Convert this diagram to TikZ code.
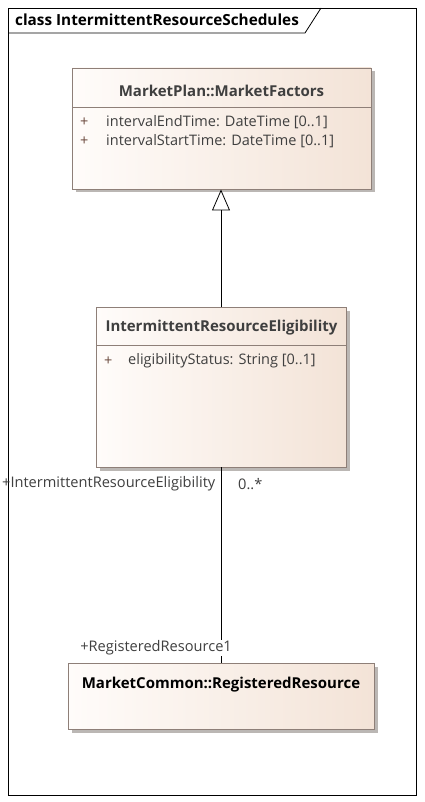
\documentclass[tikz,border=0pt]{standalone}
\usepackage{fontspec}
\setmainfont{Open Sans}
\usetikzlibrary{arrows.meta,shadows}
\definecolor{boxedge}{HTML}{8E7F78}
\definecolor{boxlight}{HTML}{FFFCFA}
\definecolor{boxwarm}{HTML}{F3E3D7}
\definecolor{txtdark}{HTML}{3F3F3F}
\definecolor{plus}{HTML}{6B4A3E}
\definecolor{shade}{HTML}{B0ABA8}
\tikzset{
  classbox/.style={draw=boxedge, line width=0.8pt, left color=boxlight, right color=boxwarm,
    drop shadow={shadow xshift=3.5pt, shadow yshift=-3.5pt, fill=shade, opacity=0.85}},
  classname/.style={font=\fontsize{15}{17}\selectfont\bfseries, text=txtdark, inner sep=0pt},
  attr/.style={font=\fontsize{14.5}{17}\selectfont, text=txtdark, anchor=west, inner sep=0pt},
  vis/.style={font=\fontsize{14.5}{17}\selectfont, text=plus, anchor=west, inner sep=0pt},
  role/.style={font=\fontsize{14.6}{17}\selectfont, text=txtdark, inner sep=0pt},
  conn/.style={draw=black, line width=0.8pt},
}
\begin{document}
\begin{tikzpicture}[x=1pt,y=-1pt]
\useasboundingbox (0,0) rectangle (424,802);
\fill[white] (0,0) rectangle (424,802);

% diagram frame with its name tab
\node[draw=black, line width=0.8pt, minimum width=408pt, minimum height=787pt, anchor=north west, inner sep=0pt] (frame) at (8,8) {};
\draw[black, line width=0.8pt] (8,33) coordinate (tabl) -- (305,33) coordinate (tabk) -- (321,8) coordinate (tabt);
\node[font=\fontsize{15.3}{17}\selectfont\bfseries, anchor=west, inner sep=0pt] (ftitle) at (15,20) {class IntermittentResourceSchedules};

% MarketPlan::MarketFactors
\node[classbox, minimum width=299pt, minimum height=121pt, inner sep=0pt] (mf) at (221.5,128.5) {};
\draw[boxedge, line width=0.8pt] (72,107) coordinate (mfl) -- (371,107) coordinate (mfr);
\node[classname] (mft) at (221.5,91) {MarketPlan::MarketFactors};
\node[vis] (mfp1) at (80,122) {+};
\node[attr] (mfa1) at (106,122) {intervalEndTime: DateTime [0..1]};
\node[vis] (mfp2) at (80,141) {+};
\node[attr] (mfa2) at (106,141) {intervalStartTime: DateTime [0..1]};

% IntermittentResourceEligibility
\node[classbox, minimum width=250pt, minimum height=160pt, inner sep=0pt] (ire) at (221.5,387) {};
\draw[boxedge, line width=0.8pt] (96.5,345) coordinate (irel) -- (346.5,345) coordinate (irer);
\node[classname] (iret) at (221.5,328) {IntermittentResourceEligibility};
\node[vis] (irep1) at (104,361) {+};
\node[attr] (irea1) at (128,361) {eligibilityStatus: String [0..1]};

% MarketCommon::RegisteredResource
\node[classbox, minimum width=306pt, minimum height=66pt, inner sep=0pt] (rr) at (221,696) {};
\node[classname, text=black] (rrt) at (221,685) {MarketCommon::RegisteredResource};

% generalization
\draw[conn, -{Triangle[open, width=18pt, length=21pt, line width=0.8pt]}] (221,307) coordinate (gs) -- (221,189.5) coordinate (ge);

% association
\draw[conn] (221,467) coordinate (as) -- (221,663) coordinate (ae);
\node[role, anchor=west] (srcrole) at (2,484) {+IntermittentResourceEligibility};
\node[role, anchor=west] (srcmult) at (238,484) {0..*};
\node[role, anchor=east, fill=white, inner sep=1pt] (dstrole) at (233,648) {+RegisteredResource1};
\end{tikzpicture}
\end{document}
